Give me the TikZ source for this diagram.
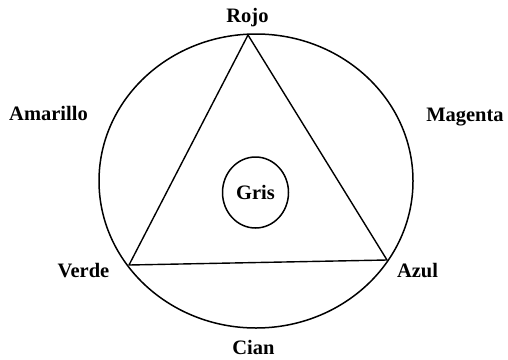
\documentclass[tikz,border=0pt]{standalone}
\usepackage{fontspec}
\setmainfont{Liberation Serif}
\usetikzlibrary{shapes.geometric}
\begin{document}
\begin{tikzpicture}[x=1pt,y=-1pt,
  lbl/.style={font=\fontsize{20.5}{22}\selectfont\bfseries, anchor=base, inner sep=0pt},
  ring/.style={draw, line width=1.5pt, ellipse, inner sep=0pt},
  edge/.style={line width=1.4pt, line join=round}]
\useasboundingbox (0,0) rectangle (508,359);
% outer colour wheel
\node[ring, minimum width=314pt, minimum height=294pt] (wheel) at (256,181) {};
% triangle vertices
\coordinate (r) at (248,35);
\coordinate (v) at (129,265);
\coordinate (a) at (387,260);
\draw[edge] (r) -- (v) -- (a) -- cycle;
% centre
\node[ring, minimum width=66pt, minimum height=71pt, font=\fontsize{20.5}{22}\selectfont\bfseries] (gris) at (255.5,192.5) {Gris};
% labels
\node[lbl] (rojo) at (247.5,22) {Rojo};
\node[lbl] (amarillo) at (48.5,120) {Amarillo};
\node[lbl] (magenta) at (465,121) {Magenta};
\node[lbl] (verde) at (83.5,277) {Verde};
\node[lbl] (azul) at (417.5,277) {Azul};
\node[lbl] (cian) at (253.5,354.5) {Cian};
\end{tikzpicture}
\end{document}
